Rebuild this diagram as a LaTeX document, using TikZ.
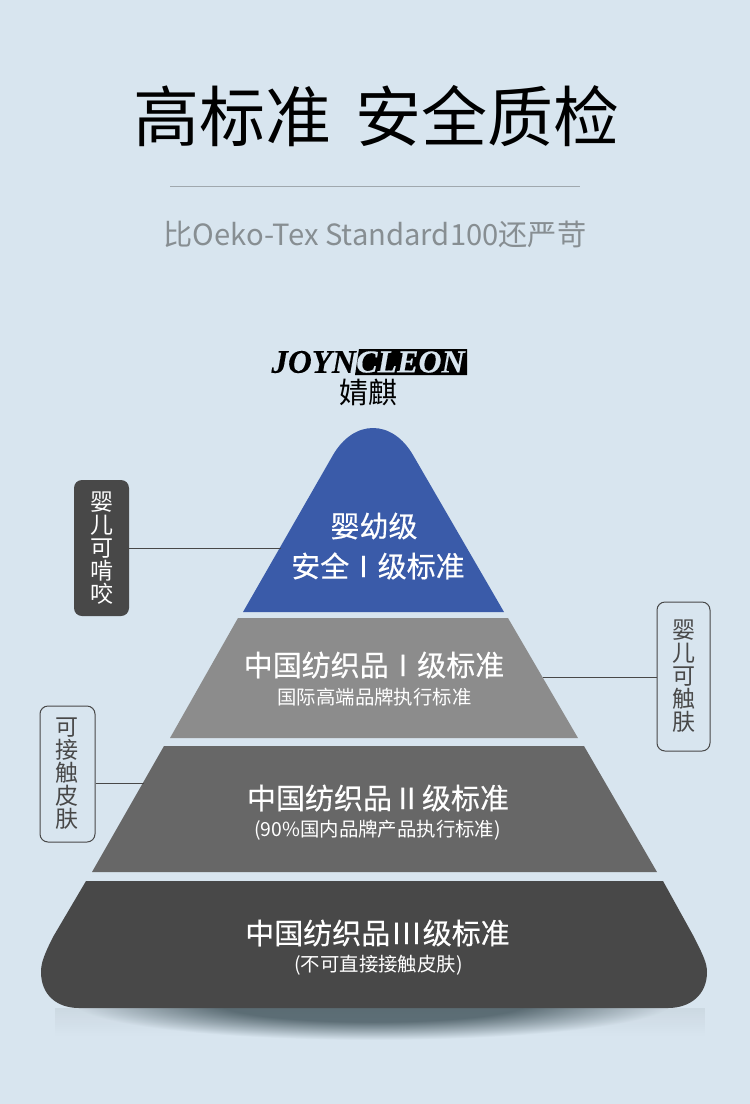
\documentclass[tikz,border=0pt]{standalone}
\usepackage{fontspec}
\setmainfont{Noto Sans CJK SC}
\newfontfamily\headfont[FakeBold=0.4]{Noto Sans CJK SC}
\newfontfamily\logofont[FakeBold=0.3]{Liberation Serif}
\definecolor{pagebg}{RGB}{216,229,239}
\definecolor{tierblue}{RGB}{58,91,169}
\definecolor{tierlight}{RGB}{140,140,140}
\definecolor{tiermid}{RGB}{103,103,103}
\definecolor{tierdark}{RGB}{72,72,72}
\definecolor{shadowc}{RGB}{96,114,122}
\definecolor{rulegrey}{RGB}{160,168,174}
\definecolor{subgrey}{RGB}{135,142,146}
\pgfdeclareradialshading{floorglow}{\pgfpointorigin}{color(0bp)=(shadowc); color(13bp)=(shadowc); color(25bp)=(pagebg); color(50bp)=(pagebg)}
\usetikzlibrary{positioning,calc,fadings}

\begin{document}
\begin{tikzpicture}[
  x=1pt,y=-1pt,
  headtxt/.style={inner sep=0pt,text=white,font=\headfont\fontsize{29}{38}\selectfont,align=center},
  subtxt/.style={inner sep=0pt,text=white,font=\fontsize{19.4}{22}\selectfont},
  sidebox/.style={rounded corners=8pt,minimum width=55pt,inner sep=0pt,align=center,
    font=\fontsize{23}{23}\selectfont},
  linkline/.style={draw=tierdark,line width=1pt}
]
  \useasboundingbox (0,0) rectangle (750,1104);
  \fill[pagebg] (0,0) rectangle (750,1104);

  % Title block
  \node[inner sep=0pt,font=\fontsize{66}{70}\selectfont] (titletxt) at (376.5,116) {高标准\hspace{25pt}安全质检};
  \coordinate (ruleleft) at (170,186);
  \coordinate (ruleright) at (580,186);
  \draw[rulegrey,line width=1pt] (ruleleft) -- (ruleright);
  \node[inner sep=0pt,text=subgrey,font=\fontsize{29.2}{34}\selectfont] (subtitle) at (375,234) {比Oeko-Tex Standard100还严苛};

  % Logo
  \fill[black] (359,349) -- (467,349) -- (467,375) -- (355,375) -- cycle;
  \node[inner sep=0pt,anchor=east,font=\logofont\bfseries\itshape\fontsize{33}{34}\selectfont] (logoleft) at (356,362) {JOYN};
  \node[inner sep=0pt,anchor=west,text=pagebg,font=\logofont\bfseries\itshape\fontsize{32}{34}\selectfont] (logoright) at (356,362) {CLEON};
  \node[inner sep=0pt,font=\fontsize{29}{32}\selectfont] (logocn) at (368,392) {婧麒};

  % Floor shadow
  \begin{scope}
    \clip (20,1008) rectangle (730,1060);
    \shade[shading=floorglow] (373,1002) ellipse (300pt and 38pt);
  \end{scope}
  \fill[black,opacity=0.05,path fading=south] (55,1008) rectangle (705,1036);

  % Pyramid tiers
  \fill[tierblue] (243,612) -- (333,455) .. controls (354,419) and (392,419) .. (413,455) -- (504,612) -- cycle;
  \fill[tierlight] (238,618) -- (508,618) -- (578,738) -- (170,738) -- cycle;
  \fill[tiermid] (164,746) -- (584,746) -- (657,872) -- (92,872) -- cycle;
  \fill[tierdark] (86,881) -- (663,881) -- (694,937) .. controls (703,955) and (707,963) .. (707,972)
    .. controls (707,995) and (690,1008) .. (668,1008) -- (79,1008)
    .. controls (57,1008) and (41,995) .. (41,972) .. controls (41,963) and (44,955) .. (53,937) -- cycle;

  % Tier texts
  \node[headtxt] (babyhead) at (374,526) {婴幼级};
  \node[headtxt] (babysub) at (378,566) {安全\hspace{10pt}I\hspace{10pt}级标准};
  \node[headtxt] (onehead) at (374,665) {中国纺织品\hspace{10pt}I\hspace{10pt}级标准};
  \node[subtxt] (onesub) at (374.5,697) {国际高端品牌执行标准};
  \node[headtxt] (twohead) at (378,798) {中国纺织品 II 级标准};
  \node[subtxt] (twosub) at (377.5,830) {(90\%国内品牌产品执行标准)};
  \node[headtxt] (threehead) at (377.5,933) {中国纺织品\hspace{2pt}I\hspace{1.5pt}I\hspace{1.5pt}I\hspace{2pt}级标准};
  \node[subtxt] (threesub) at (378.5,965) {(不可直接接触皮肤)};

  % Side labels
  \node[sidebox,fill=tierdark,text=white,minimum height=136pt] (bitebox) at (101.5,548) {婴\\儿\\可\\啃\\咬};
  \node[sidebox,draw=tierdark,text=tierdark,line width=1pt,minimum width=53pt,minimum height=149pt] (touchbox) at (683.5,676.5) {婴\\儿\\可\\触\\肤};
  \node[sidebox,draw=tierdark,text=tierdark,line width=1pt,minimum width=55pt,minimum height=136pt] (skinbox) at (67.5,774) {可\\接\\触\\皮\\肤};

  % Connectors
  \coordinate (biteend) at (281,548);
  \coordinate (touchend) at (543,677);
  \coordinate (skinend) at (144,783);
  \draw[linkline] (bitebox.east) -- (biteend);
  \draw[linkline] (touchbox.west |- touchend) -- (touchend);
  \draw[linkline] (skinbox.east |- skinend) -- (skinend);
\end{tikzpicture}
\end{document}
